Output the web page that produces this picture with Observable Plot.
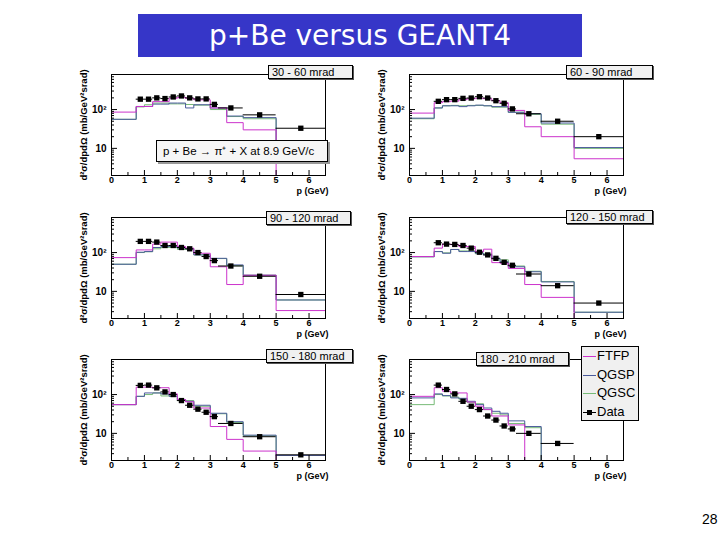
<!DOCTYPE html>
<html><head><meta charset="utf-8">
<script src="https://cdn.jsdelivr.net/npm/d3@7"></script>
<script src="https://cdn.jsdelivr.net/npm/@observablehq/plot@0.6"></script>
<style>
body{margin:0;background:#fff;}
#page{position:relative;width:720px;height:540px;overflow:hidden;font-family:"Liberation Sans",Arial,sans-serif;background:#fff;}
.panel{position:absolute;}
.lbl{position:absolute;background:#f0f0f0;border:1px solid #000;box-shadow:1px 1px 0 #555;font-size:11px;line-height:12px;padding-left:3px;box-sizing:border-box;white-space:nowrap;color:#000;}
#title{position:absolute;left:138px;top:14px;width:444px;height:43px;background:#3636c8;color:#fff;font-family:"DejaVu Sans",sans-serif;font-size:28px;line-height:43px;text-align:center;}
#legend{position:absolute;left:581px;top:346px;width:58px;height:75px;background:#f0f0f0;border:1px solid #000;box-sizing:border-box;font-size:13px;}
.li{position:absolute;left:1px;height:18px;line-height:18px;white-space:nowrap;}
.ls{display:inline-block;width:13px;height:1px;vertical-align:middle;margin-right:1px;position:relative;}
#pagenum{position:absolute;left:702px;top:511px;font-size:14px;color:#000;}
</style></head>
<body><div id="page"></div>
<script>
// ---- data ----
const mcEdges = [0, 0.75, 1, 1.25, 1.5, 1.75, 2, 2.25, 2.5, 2.75, 3, 3.5, 4, 5, 6.5];
const dataEdges = [0.75, 1, 1.25, 1.5, 1.75, 2, 2.25, 2.5, 2.75, 3, 3.25, 4, 5, 6.5];
const angleLabels = ["30 - 60 mrad", "60 - 90 mrad", "90 - 120 mrad", "120 - 150 mrad", "150 - 180 mrad", "180 - 210 mrad"];
const dataValues = [
  [185, 185, 200, 192, 211, 224, 200, 188, 188, 136, 110, 73, 33],
  [163, 180, 180, 194, 198, 214, 198, 169, 145, 104, 78, 50, 20],
  [194, 194, 186, 152, 152, 135, 125, 100, 79, 62, 45, 24.5, 8.3],
  [179, 165, 162, 152, 130, 102, 87, 71, 56, 47, 28, 14, 5],
  [172, 175, 149, 117, 100, 70, 53, 42, 35, 27, 18, 8.2, 2.8],
  [175, 135, 104, 67, 50, 41, 28, 22, 15.5, 13, 10, 5.5, null]
];
const ftfpValues = [
  [86, 120, 120, 160, 160, 195, 205, 195, 178, 178, 110, 46, 30, 1],
  [81, 150, 160, 165, 180, 190, 195, 190, 170, 150, 95, 36, 20, 5.4],
  [74, 117, 117, 165, 186, 186, 143, 130, 96, 96, 43, 15, 26, 3.2],
  [79, 130, 165, 160, 143, 143, 106, 122, 55, 53, 39, 15, 7, 1],
  [55, 155, 155, 150, 150, 104, 74, 65, 45, 45, 15, 7, 3.5, 1],
  [90, 150, 122, 110, 110, 64, 50, 41, 28, 28, 16.5, 1, 2, 1]
];
const qgspValues = [
  [56, 120, 120, 138, 138, 147, 147, 110, 133, 133, 110, 68, 62, 12],
  [60, 110, 125, 125, 119, 125, 130, 125, 119, 119, 85, 78, 45, 10.5],
  [50, 102, 106, 135, 143, 143, 130, 125, 87, 87, 71, 48, 26, 6],
  [78, 106, 96, 120, 106, 106, 96, 87, 71, 58, 43, 32, 17.5, 2.9],
  [55, 90, 110, 110, 104, 90, 74, 67, 53, 53, 33, 20, 9, 2.7],
  [82, 104, 94, 82, 80, 67, 55, 45, 37, 33, 21, 15, 2, 2]
];
const qgscValues = [
  [56, 117, 133, 147, 147, 140, 140, 135, 130, 130, 100, 66, 58, 12],
  [58, 110, 125, 128, 125, 128, 128, 125, 115, 115, 85, 75, 42, 10],
  [50, 100, 105, 125, 135, 135, 120, 120, 87, 87, 70, 46, 26, 6],
  [78, 106, 98, 120, 110, 110, 93, 93, 65, 65, 45, 33, 18, 2.9],
  [55, 90, 100, 110, 92, 92, 70, 70, 50, 50, 32, 19, 8.7, 1],
  [55, 100, 92, 86, 76, 62, 58, 41, 33, 30, 18, 14, 2, 2]
];
const seriesNames = ["FTFP", "QGSP", "QGSC", "Data"];
const seriesColors = ["#cc33cc", "#4b5b9b", "#77bb77", "#000000"];
const xTicks = [0, 1, 2, 3, 4, 5, 6];
const xMinorTicks = [0.5, 1.5, 2.5, 3.5, 4.5, 5.5];
const yMajorTicks = [10, 100];
const yTickLabels = ["10", "10²"];
const yMinorTicks = [2, 3, 4, 5, 6, 7, 8, 9, 20, 30, 40, 50, 60, 70, 80, 90, 200, 300, 400, 500, 600, 700, 800];
const yLabel = "d²σ/dpdΩ (mb/GeV²srad)";
const xLabel = "p (GeV)";
const reactionText = "p + Be → π⁺ + X at 8.9 GeV/c";
const titleText = "p+Be versus GEANT4";
const pageNumber = "28";

// ---- layout ----
const frameLefts = [111, 409];
const frameTops = [74, 217, 359];
const M = {l: 45, r: 8, t: 8, b: 30};
const FW = 214, FH = 101;
const labelBoxes = [
  [268, 65, 85], [566, 65, 87], [266, 211, 85], [566, 210, 87], [266, 349, 87], [476, 352, 93]
];

const page = document.getElementById("page");
const font = "Liberation Sans, Arial, sans-serif";

function stairs(vals) {
  return mcEdges.map((e, i) => ({x: e, y: vals[Math.min(i, vals.length - 1)]}));
}

for (let p = 0; p < 6; p++) {
  const col = p % 2, row = Math.floor(p / 2);
  const rows = dataValues[p].map((v, i) => ({lo: dataEdges[i], hi: dataEdges[i + 1], mid: (dataEdges[i] + dataEdges[i + 1]) / 2, v})).filter(d => d.v != null);
  const chart = Plot.plot({
    width: M.l + FW + M.r,
    height: M.t + FH + M.b,
    marginLeft: M.l, marginRight: M.r, marginTop: M.t, marginBottom: M.b,
    x: {domain: [0, 6.5]},
    y: {type: "log", domain: [2, 800]},
    style: {fontFamily: font, background: "transparent", overflow: "visible", color: "#000"},
    marks: [
      Plot.line(stairs(qgscValues[p]), {x: "x", y: "y", curve: "step-after", stroke: seriesColors[2], strokeWidth: 1, clip: true}),
      Plot.line(stairs(qgspValues[p]), {x: "x", y: "y", curve: "step-after", stroke: seriesColors[1], strokeWidth: 1, clip: true}),
      Plot.line(stairs(ftfpValues[p]), {x: "x", y: "y", curve: "step-after", stroke: seriesColors[0], strokeWidth: 1, clip: true}),
      Plot.ruleY(rows, {y: "v", x1: "lo", x2: "hi", stroke: "#000", strokeWidth: 1, clip: true}),
      Plot.dot(rows, {x: "mid", y: "v", symbol: "square", r: 3, fill: "#000", stroke: null, clip: true}),
      Plot.frame({stroke: "#000"}),
      Plot.axisX({ticks: xTicks, tickSize: -5, fill: "none", label: null}),
      Plot.axisX({ticks: xMinorTicks, tickSize: -3, fill: "none", label: null}),
      Plot.axisX({ticks: xTicks, tickSize: 0, tickPadding: 1, tickFormat: d => String(d), fontSize: 9, fontWeight: "bold", label: null}),
      Plot.axisY({ticks: yMajorTicks, tickSize: -6, fill: "none", label: null}),
      Plot.axisY({ticks: yMinorTicks, tickSize: -3, fill: "none", label: null}),
      Plot.axisY({ticks: yMajorTicks, tickSize: 0, tickPadding: 5, tickFormat: d => yTickLabels[yMajorTicks.indexOf(d)], fontSize: 10, fontWeight: "bold", label: null}),
      Plot.text([yLabel], {text: d => d, frameAnchor: "left", rotate: -90, dx: -28, textAnchor: "middle", fontSize: 9.5, fontWeight: "bold"}),
      Plot.text([xLabel], {text: d => d, frameAnchor: "bottom-right", dx: 3, dy: 18.5, textAnchor: "end", fontSize: 9, fontWeight: "bold"})
    ]
  });
  chart.classList.add("panel");
  chart.style.left = (frameLefts[col] - M.l) + "px";
  chart.style.top = (frameTops[row] - M.t) + "px";
  page.appendChild(chart);
}

// label boxes
labelBoxes.forEach(([l, t, w], i) => {
  const d = document.createElement("div");
  d.className = "lbl";
  d.style.left = l + "px"; d.style.top = t + "px"; d.style.width = w + "px"; d.style.height = "14px";
  d.textContent = angleLabels[i];
  page.appendChild(d);
});

// reaction box
const rb = document.createElement("div");
rb.className = "lbl";
Object.assign(rb.style, {left: "156px", top: "140px", width: "172px", height: "22px", lineHeight: "20px", paddingLeft: "6px", fontSize: "11.5px", background: "#f6f6f6", boxShadow: "2px 2px 0 #999"});
rb.textContent = reactionText;
page.appendChild(rb);

// legend
const lg = document.createElement("div");
lg.id = "legend";
seriesNames.forEach((name, i) => {
  const it = document.createElement("div");
  it.className = "li";
  it.style.top = (i * 18.7) + "px";
  const sw = document.createElement("span");
  sw.className = "ls";
  sw.style.background = seriesColors[i];
  if (name === "Data") {
    const sq = document.createElement("span");
    Object.assign(sq.style, {position: "absolute", left: "4px", top: "-2px", width: "5px", height: "5px", background: "#000"});
    sw.appendChild(sq);
  }
  it.appendChild(sw);
  it.appendChild(document.createTextNode(name));
  lg.appendChild(it);
});
page.appendChild(lg);

// title
const tt = document.createElement("div");
tt.id = "title";
tt.textContent = titleText;
page.appendChild(tt);

const pn = document.createElement("div");
pn.id = "pagenum";
pn.textContent = pageNumber;
page.appendChild(pn);
</script>
</body></html>
